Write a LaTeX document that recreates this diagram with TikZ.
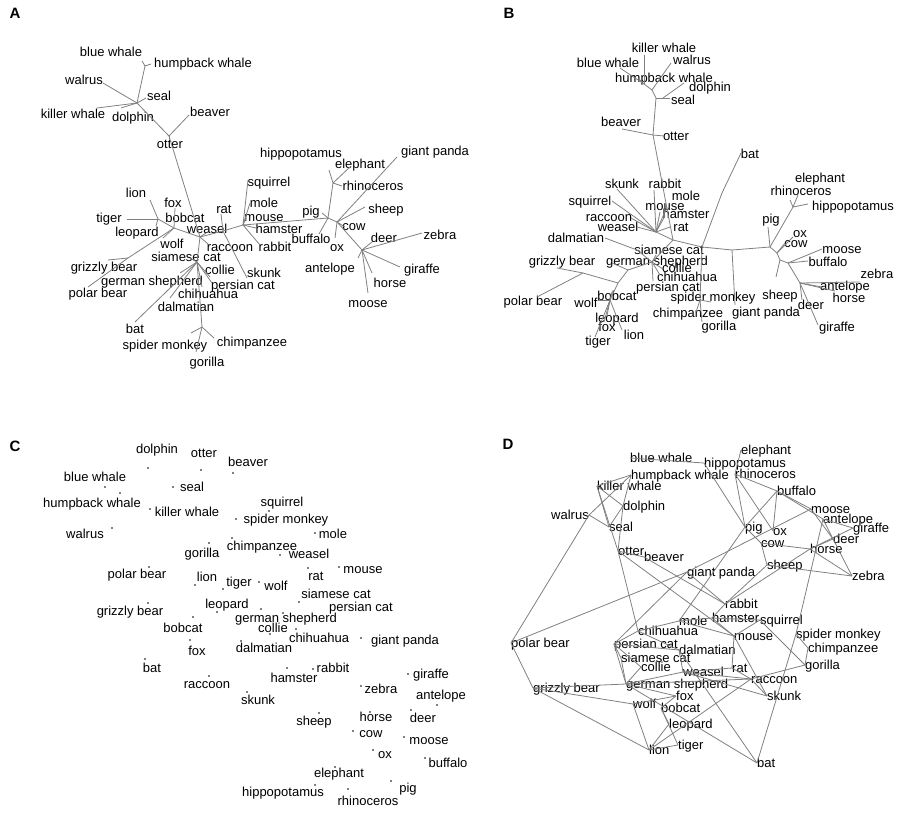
\documentclass[tikz,border=0pt]{standalone}
\usepackage{fontspec}
\setmainfont{Liberation Sans}
\begin{document}
\begin{tikzpicture}[
    x=1pt, y=-1pt,
    lab/.style={
        inner sep=0pt,
        text height=9.5pt,
        text depth=0pt,
        font=\fontsize{13}{15}\selectfont
    },
    panel/.style={inner sep=0pt, font=\fontsize{15}{17}\selectfont\bfseries},
    branch/.style={draw=black!50, line width=0.8pt},
    dot/.style={circle, fill=black, inner sep=0pt, minimum size=1.7pt}
]
\useasboundingbox (0,0) rectangle (900,816);

\node[panel] (pA) at (15,13) {A};
\node[panel] (pB) at (509,13) {B};
\node[panel] (pC) at (15,446) {C};
\node[panel] (pD) at (508,444) {D};

% ---- A: first tree
\foreach \n/\x/\y/\t in {bluewhale/111/52/blue whale, humpback/203/63/humpback whale,
    walrus/84/80/walrus, seal/159/96/seal, killerwhale/73/114/killer whale,
    dolphin/133/117/dolphin, beaver/210/112/beaver, otter/170/144/otter,
    lion/136/193/lion, fox/173/203/fox, tiger/109/218/tiger, bobcat/185/218/bobcat,
    rat/224/209/rat, weasel/207/229/weasel, leopard/137/232/leopard, wolf/172/244/wolf,
    raccoon/230/247/raccoon, siamesecat/186/257/siamese cat, grizzly/104/267/grizzly bear,
    collie/220/270/collie, germanshepherd/152/281/german shepherd,
    persiancat/243/285/persian cat, polarbear/98/293/polar bear,
    chihuahua/208/294/chihuahua, dalmatian/186/307/dalmatian, bat/135/329/bat,
    spidermonkey/165/345/spider monkey, chimpanzee/252/342/chimpanzee,
    gorilla/207/362/gorilla, hippopotamus/301/153/hippopotamus,
    giantpanda/435/151/giant panda, elephant/360/164/elephant, squirrel/269/182/squirrel,
    rhinoceros/373/186/rhinoceros, mole/264/203/mole, sheep/386/209/sheep, pig/311/211/pig,
    mouse/264/217/mouse, cow/354/226/cow, hamster/279/229/hamster, zebra/440/235/zebra,
    deer/384/238/deer, buffalo/311/239/buffalo, ox/337/247/ox, rabbit/275/247/rabbit,
    antelope/330/268/antelope, giraffe/422/269/giraffe, skunk/264/273/skunk,
    horse/390/283/horse, moose/368/303/moose}
    \node[lab] (a\n) at (\x,\y) {\t};

\foreach \n/\x/\y in {bluewhale/142/61, humpback/151/64, walrus/103/83, seal/146/98,
    killerwhale/97/108, dolphin/121/108, beaver/189/115, otter/169/139, lion/150/200,
    tiger/127/219, fox/175/208, leopard/156/226, wolf/163/238, grizzly/108/260,
    polarbear/88/287, weasel/206/233, raccoon/208/244, rat/221/214, skunk/247/278,
    squirrel/248/180, mole/250/203, mouse/246/218, hamster/256/228, rabbit/260/245,
    siamesecat/190/258, collie/210/277, germanshepherd/180/273, chihuahua/202/287,
    dalmatian/170/298, bat/135/322, persiancat/212/283, spidermonkey/191/333,
    chimpanzee/214/338, gorilla/196/352, hippopotamus/329/170, elephant/350/167,
    rhinoceros/342/186, pig/322/213, buffalo/319/234, giantpanda/397/157, sheep/365/207,
    ox/335/238, cow/345/227, zebra/422/233, deer/372/242, giraffe/400/267,
    horse/372/273, moose/368/293, antelope/358/258}
    \coordinate (ae-\n) at (\x,\y);

\foreach \n/\x/\y in {bw/145/66, wh/137/103, ot/169/136, hub/200/237, can/174/228,
    cat/158/219, bear/128/258, dog/197/262, pri/202/327, rs/223/231, rod/243/225,
    ung/328/218, ele/333/183, cow/337/222, deer/362/250}
    \coordinate (aj-\n) at (\x,\y);

\foreach \p/\q in {j-bw/e-bluewhale, j-bw/e-humpback, j-wh/j-bw, j-wh/e-walrus,
    j-wh/e-seal, j-wh/e-killerwhale, j-wh/e-dolphin, j-wh/j-ot, j-ot/e-beaver,
    j-ot/e-otter, j-ot/j-hub, j-hub/j-can, j-can/e-fox, j-can/j-cat, j-cat/e-lion,
    j-cat/e-tiger, j-cat/e-leopard, j-can/e-wolf, j-can/j-bear, j-bear/e-grizzly,
    j-bear/e-polarbear, j-hub/e-weasel, j-hub/e-raccoon, j-hub/j-rs, j-rs/j-rod,
    j-rs/e-rat, j-rs/e-skunk, j-rod/e-squirrel, j-rod/e-mole, j-rod/e-mouse,
    j-rod/e-hamster, j-rod/e-rabbit, j-rod/j-ung, j-ung/e-pig, j-ung/e-buffalo,
    j-ung/j-ele, j-ele/e-elephant, j-ele/e-rhinoceros, j-ele/e-hippopotamus,
    j-ung/j-cow, j-cow/e-giantpanda, j-cow/e-sheep, j-cow/e-ox, j-cow/e-cow,
    j-cow/j-deer, j-deer/e-zebra, j-deer/e-deer, j-deer/e-giraffe, j-deer/e-horse,
    j-deer/e-moose, j-deer/e-antelope, j-hub/j-dog, j-dog/e-siamesecat, j-dog/e-collie,
    j-dog/e-germanshepherd, j-dog/e-chihuahua, j-dog/e-dalmatian, j-dog/e-bat,
    j-dog/e-persiancat, j-dog/j-pri, j-pri/e-spidermonkey, j-pri/e-chimpanzee,
    j-pri/e-gorilla}
    \draw[branch] (a\p) -- (a\q);

% ---- B: second tree
\foreach \n/\x/\y/\t in {killerwhale/664/48/killer whale, bluewhale/608/63/blue whale,
    walrus/692/60/walrus, humpback/664/78/humpback whale, dolphin/710/87/dolphin,
    seal/683/100/seal, beaver/621/122/beaver, otter/676/136/otter, bat/750/154/bat,
    skunk/622/184/skunk, rabbit/665/184/rabbit, mole/686/196/mole,
    squirrel/590/201/squirrel, mouse/665/206/mouse, hamster/686/214/hamster,
    raccoon/609/217/raccoon, weasel/618/227/weasel, rat/681/227/rat,
    dalmatian/576/238/dalmatian, siamesecat/669/250/siamese cat,
    grizzly/562/261/grizzly bear, germanshepherd/657/261/german shepherd,
    collie/677/268/collie, chihuahua/687/277/chihuahua, persiancat/668/287/persian cat,
    polarbear/533/301/polar bear, wolf/586/303/wolf, bobcat/617/296/bobcat,
    spidermonkey/713/297/spider monkey, leopard/617/318/leopard, fox/607/327/fox,
    chimpanzee/688/313/chimpanzee, giantpanda/766/312/giant panda,
    gorilla/719/326/gorilla, lion/634/335/lion, tiger/598/341/tiger,
    elephant/820/178/elephant, rhinoceros/801/191/rhinoceros,
    hippopotamus/853/206/hippopotamus, pig/771/219/pig, ox/800/233/ox, cow/796/243/cow,
    moose/842/249/moose, buffalo/828/262/buffalo, zebra/877/274/zebra,
    antelope/845/286/antelope, horse/849/298/horse, sheep/780/295/sheep,
    deer/811/305/deer, giraffe/837/327/giraffe}
    \node[lab] (b\n) at (\x,\y) {\t};

\foreach \n/\x/\y in {killerwhale/644/55, bluewhale/620/68, walrus/671/63,
    humpback/640/80, dolphin/684/83, seal/670/98, beaver/622/129, otter/664/136,
    bat/741/153, skunk/617/189, squirrel/612/201, rabbit/654/190, mole/667/207,
    mouse/660/212, hamster/665/216, raccoon/631/218, weasel/637/227, rat/670/227,
    dalmatian/605/238, siamesecat/656/255, germanshepherd/612/263, collie/663/269,
    chihuahua/660/275, persiancat/653/281, grizzly/557/268, polarbear/537/297,
    wolf/598/300, bobcat/612/292, leopard/607/316, fox/604/322, tiger/595/337,
    lion/622/330, spidermonkey/711/302, chimpanzee/696/312, gorilla/702/322,
    giantpanda/735/305, pig/768/227, elephant/798/195, rhinoceros/790/200,
    hippopotamus/808/204, ox/793/237, cow/785/243, moose/822/249, buffalo/808/261,
    sheep/776/277, zebra/860/282, antelope/822/287, horse/835/291, deer/802/300,
    giraffe/818/325}
    \coordinate (be-\n) at (\x,\y);

\foreach \n/\x/\y in {kw/644/84, wa/652/90, wh/656/98, ds/663/98, ot/653/135,
    rod/656/232, core/673/240, cat/652/262, dal/637/250, gs/628/270, bear/618/283,
    gr/583/273, fel/610/300, prim/702/247, bat/722/193, pr/700/300, gp/732/250,
    ung/770/247, ele/793/207, oc/777/253, sh/780/260, bm/788/263, deer/800/283}
    \coordinate (bj-\n) at (\x,\y);

\foreach \p/\q in {j-kw/e-killerwhale, j-kw/e-bluewhale, j-kw/e-humpback, j-wa/j-kw,
    j-wa/e-walrus, j-wh/j-wa, j-wh/j-ds, j-ds/e-dolphin, j-ds/e-seal, j-wh/j-ot,
    j-ot/e-beaver, j-ot/e-otter, j-ot/j-core, j-rod/j-core, j-rod/e-skunk,
    j-rod/e-squirrel, j-rod/e-rabbit, j-rod/e-mole, j-rod/e-mouse, j-rod/e-hamster,
    j-rod/e-raccoon, j-rod/e-weasel, j-rod/e-rat, j-core/j-cat, j-cat/j-dal,
    j-dal/e-dalmatian, j-cat/e-siamesecat, j-cat/e-collie, j-cat/e-chihuahua,
    j-cat/e-persiancat, j-cat/j-gs, j-gs/e-germanshepherd, j-gs/j-bear, j-bear/j-gr,
    j-gr/e-grizzly, j-gr/e-polarbear, j-bear/j-fel, j-fel/e-wolf, j-fel/e-bobcat,
    j-fel/e-leopard, j-fel/e-fox, j-fel/e-tiger, j-fel/e-lion, j-core/j-prim,
    j-prim/j-bat, j-bat/e-bat, j-prim/j-pr, j-pr/e-spidermonkey, j-pr/e-chimpanzee,
    j-pr/e-gorilla, j-prim/j-gp, j-gp/e-giantpanda, j-gp/j-ung, j-ung/e-pig,
    j-ung/j-ele, j-ele/e-elephant, j-ele/e-rhinoceros, j-ele/e-hippopotamus,
    j-ung/j-oc, j-oc/e-ox, j-oc/e-cow, j-oc/j-sh, j-sh/e-sheep, j-sh/j-bm,
    j-bm/e-moose, j-bm/e-buffalo, j-bm/j-deer, j-deer/e-zebra, j-deer/e-antelope,
    j-deer/e-horse, j-deer/e-deer, j-deer/e-giraffe}
    \draw[branch] (b\p) -- (b\q);

% ---- C: points with labels
\foreach \n/\px/\py/\lx/\ly/\t in {dolphin/148/468/157/449/dolphin,
    otter/201/470/204/453/otter, beaver/233/473/248/462/beaver,
    bluewhale/105/487/95/477/blue whale, seal/173/487/192/487/seal,
    humpback/120/493/92/503/humpback whale, killerwhale/150/509/187/512/killer whale,
    squirrel/269/511/282/502/squirrel, spidermonkey/236/519/286/519/spider monkey,
    walrus/112/528/85/534/walrus, mole/315/533/333/534/mole,
    gorilla/209/543/202/553/gorilla, chimpanzee/232/538/262/546/chimpanzee,
    weasel/280/555/309/554/weasel, polarbear/149/567/137/574/polar bear,
    lion/195/585/207/577/lion, tiger/223/589/239/582/tiger, wolf/259/582/276/586/wolf,
    rat/308/568/316/576/rat, mouse/339/567/363/569/mouse,
    siamesecat/299/602/336/594/siamese cat, grizzly/148/603/130/611/grizzly bear,
    leopard/217/612/227/604/leopard, persiancat/261/609/361/607/persian cat,
    germanshepherd/283/613/286/618/german shepherd, bobcat/193/617/183/628/bobcat,
    collie/270/634/273/628/collie, chihuahua/296/629/319/638/chihuahua,
    giantpanda/361/638/405/640/giant panda, dalmatian/241/641/264/648/dalmatian,
    fox/190/640/197/651/fox, bat/145/659/152/668/bat, rabbit/313/669/333/668/rabbit,
    hamster/287/668/294/678/hamster, giraffe/408/674/431/674/giraffe,
    raccoon/209/676/207/684/raccoon, zebra/361/686/381/689/zebra,
    antelope/437/705/441/695/antelope, skunk/247/692/258/700/skunk,
    sheep/319/713/314/721/sheep, horse/370/712/376/717/horse, deer/411/710/423/718/deer,
    cow/353/731/371/733/cow, moose/404/737/429/740/moose, ox/373/750/385/754/ox,
    buffalo/425/758/448/763/buffalo, elephant/335/767/339/773/elephant,
    pig/391/781/408/788/pig, hippopotamus/315/785/283/792/hippopotamus,
    rhinoceros/348/789/368/801/rhinoceros}
{
    \node[dot] (c\n) at (\px,\py) {};
    \node[lab] (c\n-t) at (\lx,\ly) {\t};
}

% ---- D: neighbour graph
\foreach \n/\x/\y/\t/\a in {bluewhale/630/458/blue whale/west,
    elephant/741/450/elephant/west, hippopotamus/704/463/hippopotamus/west,
    humpback/631/475/humpback whale/west, rhinoceros/735/474/rhinoceros/west,
    killerwhale/597/486/killer whale/west, buffalo/777/491/buffalo/west,
    dolphin/623/506/dolphin/west, walrus/589/515/walrus/east, moose/811/509/moose/west,
    antelope/823/519/antelope/west, giraffe/853/528/giraffe/west, seal/609/527/seal/west,
    pig/745/527/pig/west, ox/773/531/ox/west, deer/833/539/deer/west,
    cow/761/543/cow/west, horse/810/549/horse/west, otter/618/551/otter/west,
    beaver/644/557/beaver/west, sheep/767/565/sheep/west, zebra/852/576/zebra/west,
    giantpanda/687/572/giant panda/west, rabbit/725/604/rabbit/west,
    mole/679/621/mole/west, hamster/712/618/hamster/west, squirrel/760/620/squirrel/west,
    chihuahua/638/631/chihuahua/west, mouse/734/636/mouse/west,
    spidermonkey/796/634/spider monkey/west, polarbear/511/643/polar bear/west,
    persiancat/614/644/persian cat/west, chimpanzee/808/648/chimpanzee/west,
    dalmatian/679/650/dalmatian/west, siamesecat/621/658/siamese cat/west,
    collie/641/667/collie/west, gorilla/805/665/gorilla/west, weasel/683/672/weasel/west,
    rat/732/668/rat/west, raccoon/751/679/raccoon/west,
    germanshepherd/626/684/german shepherd/west, grizzly/533/688/grizzly bear/west,
    skunk/767/696/skunk/west, fox/676/696/fox/west, wolf/633/704/wolf/west,
    bobcat/661/708/bobcat/west, leopard/669/724/leopard/west, tiger/678/745/tiger/west,
    lion/649/750/lion/west, bat/757/763/bat/west}
{
    \coordinate (d\n) at (\x,\y);
    \node[lab, anchor=\a] (d\n-t) at (d\n) {\t};
}

\foreach \p/\q in {bluewhale/hippopotamus, humpback/killerwhale, humpback/walrus,
    humpback/dolphin, killerwhale/dolphin, killerwhale/seal, killerwhale/otter,
    walrus/seal, walrus/polarbear, dolphin/seal, dolphin/otter, otter/beaver,
    otter/chihuahua, otter/mouse, beaver/rabbit, giantpanda/polarbear, giantpanda/moose,
    giantpanda/persiancat, giantpanda/rabbit, elephant/rhinoceros, hippopotamus/pig,
    rhinoceros/pig, rhinoceros/ox, rhinoceros/buffalo, buffalo/pig, buffalo/ox,
    buffalo/moose, buffalo/antelope, moose/deer, antelope/giraffe, antelope/deer,
    antelope/spidermonkey, giraffe/horse, deer/zebra, horse/zebra, horse/cow, horse/deer,
    pig/cow, pig/mole, cow/sheep, sheep/zebra, sheep/rabbit, horse/rabbit,
    spidermonkey/bat, polarbear/grizzly, grizzly/germanshepherd, grizzly/wolf,
    grizzly/lion, persiancat/siamesecat, persiancat/collie, persiancat/dalmatian,
    persiancat/germanshepherd, chihuahua/mole, chihuahua/dalmatian, chihuahua/persiancat,
    mole/hamster, mole/mouse, hamster/rabbit, hamster/squirrel, hamster/mouse,
    squirrel/mouse, squirrel/gorilla, spidermonkey/chimpanzee, chimpanzee/gorilla,
    gorilla/raccoon, mouse/rat, mouse/skunk, dalmatian/weasel, dalmatian/bat, weasel/rat,
    weasel/raccoon, weasel/skunk, rat/raccoon, raccoon/skunk, germanshepherd/weasel,
    germanshepherd/collie, germanshepherd/siamesecat, germanshepherd/fox,
    germanshepherd/raccoon, germanshepherd/bat, fox/wolf, fox/bobcat, wolf/lion,
    bobcat/leopard, bobcat/tiger, leopard/lion, tiger/lion, lion/raccoon}
    \draw[branch] (d\p) -- (d\q);

\end{tikzpicture}
\end{document}
